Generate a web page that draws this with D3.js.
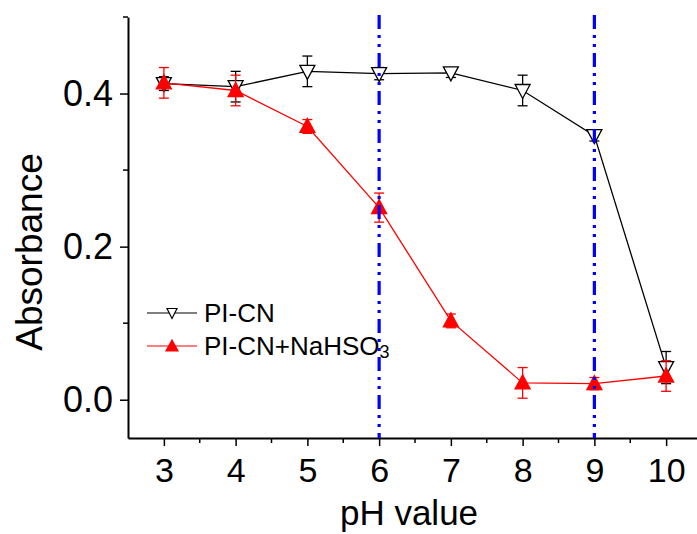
<!DOCTYPE html>
<html><head><meta charset="utf-8">
<script src="https://cdn.jsdelivr.net/npm/d3@7"></script>
<style>html,body{margin:0;padding:0;background:#fff;} svg{display:block;font-family:Arial,"Liberation Sans",sans-serif;}</style>
</head><body>
<svg id="c" width="697" height="534"></svg>
<script>
const pH = [3,4,5,6,7,8,9,10];
const piCN = [0.413,0.409,0.429,0.426,0.427,0.404,0.345,0.042];
const piCNErr = [0.009,0.02,0.02,0.008,0.006,0.02,0.007,0.021];
const piNa = [0.414,0.404,0.357,0.251,0.103,0.022,0.021,0.031];
const piNaErr = [0.02,0.02,0.009,0.019,0.009,0.02,0.008,0.02];
const vLines = [6,9];
const xTicks = [3,4,5,6,7,8,9,10];
const yTicks = [0.0,0.2,0.4];
const yMinor = [0.1,0.3,0.5];

const svg = d3.select("#c");
const x = d3.scaleLinear().domain([2.5,10.5]).range([128,702]);
const y = d3.scaleLinear().domain([-0.05,0.5]).range([438,17]);

// axes
const xAxis = d3.axisBottom(x).tickValues(xTicks).tickSize(8).tickSizeOuter(0).tickFormat(d3.format("d"));
const gx = svg.append("g").attr("transform","translate(0,438)").call(xAxis);
gx.select(".domain").attr("stroke","#000").attr("stroke-width",2);
gx.selectAll(".tick line").attr("stroke-width",1.5);
gx.selectAll(".tick text").attr("font-size",34).attr("y",20).attr("fill","#000");
gx.selectAll(".minor").data(d3.range(3.5,10.5,1)).enter().append("line")
  .attr("x1",d=>x(d)).attr("x2",d=>x(d)).attr("y1",0).attr("y2",5).attr("stroke","#000").attr("stroke-width",1.5);

const yAxis = d3.axisLeft(y).tickValues(yTicks).tickSize(8).tickSizeOuter(0).tickFormat(d3.format(".1f"));
const gy = svg.append("g").attr("transform","translate(128,0)").call(yAxis);
gy.select(".domain").attr("stroke","#000").attr("stroke-width",2);
gy.selectAll(".tick line").attr("stroke-width",1.5);
gy.selectAll(".tick text").attr("font-size",36).attr("x",-15).attr("fill","#000");
gy.selectAll(".minor").data(yMinor).enter().append("line")
  .attr("x1",0).attr("x2",-5).attr("y1",d=>y(d)).attr("y2",d=>y(d)).attr("stroke","#000").attr("stroke-width",1.5);

// axis titles
svg.append("text").attr("x",409).attr("y",525).attr("text-anchor","middle").attr("font-size",35).text("pH value");
svg.append("text").attr("transform",`translate(42,252) rotate(-90)`).attr("text-anchor","middle").attr("font-size",37).text("Absorbance");

// series
const line = d3.line().x(d=>x(d[0])).y(d=>y(d[1]));
function drawSeries(vals, errs, color, filled) {
  const g = svg.append("g");
  const pts = pH.map((p,i)=>[p,vals[i],errs[i]]);
  g.append("path").datum(pts).attr("d",line).attr("fill","none").attr("stroke",color).attr("stroke-width",1.3);
  const eb = g.selectAll(".eb").data(pts).enter().append("g");
  eb.append("line").attr("x1",d=>x(d[0])).attr("x2",d=>x(d[0])).attr("y1",d=>y(d[1]-d[2])).attr("y2",d=>y(d[1]+d[2])).attr("stroke",color).attr("stroke-width",1.3);
  [1,-1].forEach(s=>{
    eb.append("line").attr("x1",d=>x(d[0])-5).attr("x2",d=>x(d[0])+5).attr("y1",d=>y(d[1]+s*d[2])).attr("y2",d=>y(d[1]+s*d[2])).attr("stroke",color).attr("stroke-width",1.3);
  });
  g.selectAll(".m").data(pts).enter().append("path")
    .attr("transform",d=>`translate(${x(d[0])},${y(d[1])})`)
    .attr("d", filled ? "M0,-8L7.5,6L-7.5,6Z" : "M-7.5,-6L7.5,-6L0,8Z")
    .attr("fill", filled ? color : "#fff").attr("stroke",color).attr("stroke-width",1.3);
}
drawSeries(piCN, piCNErr, "#000", false);
drawSeries(piNa, piNaErr, "#ff0000", true);

// legend
const leg = svg.append("g");
[[313,"#000",false],[346,"#ff0000",true]].forEach(([ly,c,f])=>{
  leg.append("line").attr("x1",147).attr("x2",197).attr("y1",ly).attr("y2",ly).attr("stroke",c).attr("stroke-width",1.2);
  leg.append("path").attr("transform",`translate(172,${ly})`).attr("d", f ? "M0,-6L6,5L-6,5Z" : "M-5,-4.5L5,-4.5L0,5.5Z")
    .attr("fill", f ? c : "#fff").attr("stroke",c).attr("stroke-width",1.2);
});
leg.append("text").attr("x",204).attr("y",322).attr("font-size",26).text("PI-CN");
const t2 = leg.append("text").attr("x",204).attr("y",355).attr("font-size",26);
t2.append("tspan").text("PI-CN+NaHSO");
t2.append("tspan").attr("font-size",18).attr("dy",3).text("3");

// vertical dash-dot lines
svg.selectAll(".vl").data(vLines).enter().append("line")
  .attr("x1",d=>x(d)).attr("x2",d=>x(d)).attr("y1",15).attr("y2",438)
  .attr("stroke","#0000ff").attr("stroke-width",3.2).attr("stroke-dasharray","14,6,3,6,3,6");
</script>
</body></html>
